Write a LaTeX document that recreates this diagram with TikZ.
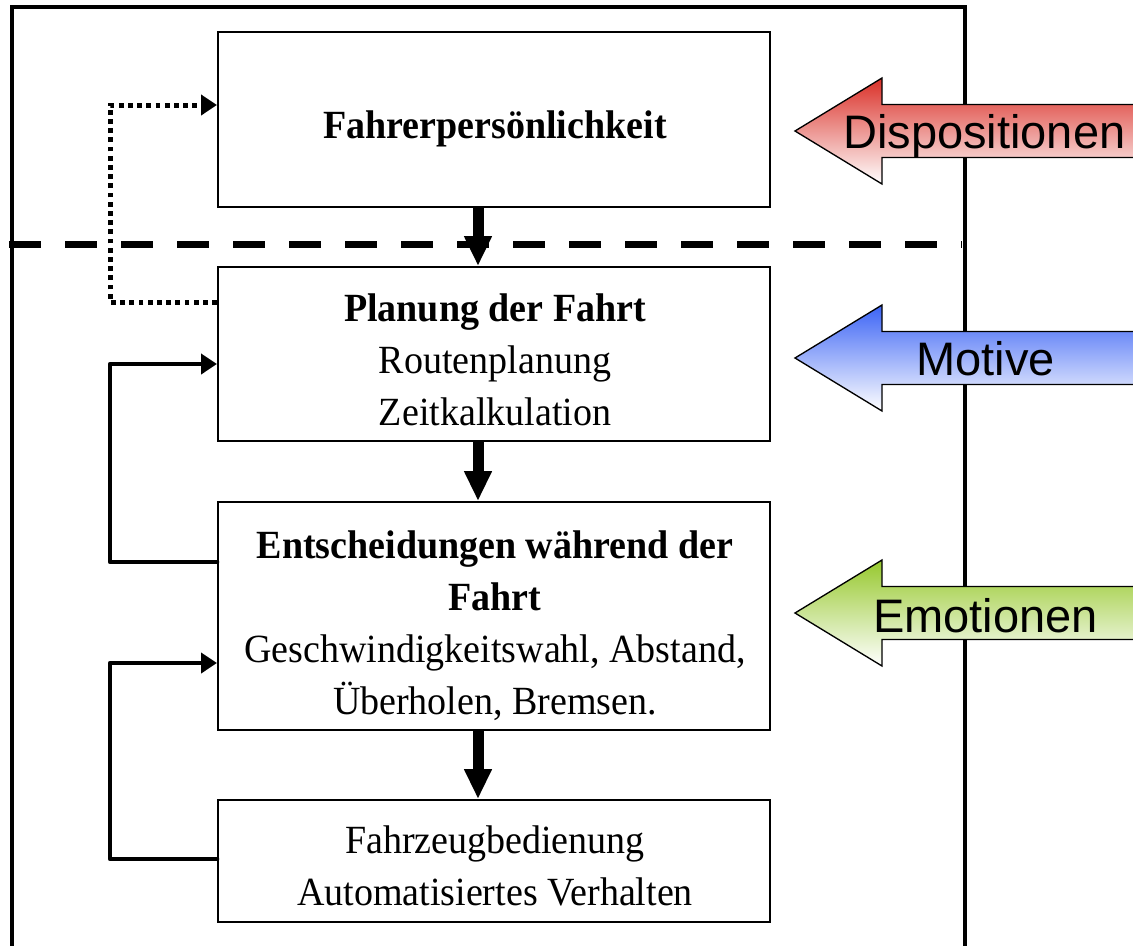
\documentclass[tikz,border=0pt]{standalone}
\usepackage{fontspec}
\setmainfont{Liberation Serif}[FakeStretch=0.95]
\newfontfamily\arialf{Liberation Sans}
\usetikzlibrary{arrows.meta,calc}
\definecolor{dispred}{RGB}{218,48,40}
\definecolor{motblue}{RGB}{60,100,245}
\definecolor{emogreen}{RGB}{150,200,45}
\begin{document}
\begin{tikzpicture}[x=0.75pt,y=-0.75pt,
  box/.style={draw, line width=1.5pt, rectangle, inner sep=0pt, minimum width=414pt},
  boxtext/.style={align=center, inner sep=0pt, anchor=north, font=\fontsize{30}{39}\selectfont},
  bigarrow/.style={line width=8.25pt, -{Triangle[width=19.5pt,length=22.5pt]}},
  loopline/.style={line width=3.5pt, line cap=round, line join=round, -{Triangle[width=15pt,length=12pt]}},
  dotline/.style={line width=3.75pt, dash pattern=on 3.6pt off 3.3pt, -{Triangle[width=15pt,length=12pt]}},
  sepline/.style={line width=5.25pt, dash pattern=on 24pt off 18pt},
  framel/.style={line width=3pt},
  fatarrow/.style={draw=black, line width=1pt, bottom color=white},
  lab/.style={anchor=base west, inner sep=0pt, font=\arialf\fontsize{35.25}{40}\selectfont}
]
\useasboundingbox (0,0) rectangle (1133,946);
\clip (0,0) rectangle (1133,946);
\fill[white] (0,0) rectangle (1133,946);

% frame
\draw[framel] (12,970) -- (12,7) -- (965,7) -- (965,970);

% separator
\draw[sepline] (9,244) -- (962,244);

% boxes
\node[box, minimum height=131.25pt] (b1) at (494,119.5) {};
\node[box, minimum height=130.5pt] (b2) at (494,354) {};
\node[box, minimum height=171pt] (b3) at (494,616) {};
\node[box, minimum height=91.5pt] (b4) at (494,861) {};

% texts
\node[boxtext] (t1) at (495,110) {\textbf{Fahrerpersönlichkeit}};
\node[boxtext] (t2) at (495,293) {\textbf{Planung der Fahrt}\\Routenplanung\\Zeitkalkulation};
\node[boxtext] (t3) at (495,530) {\textbf{Entscheidungen während der}\\\textbf{Fahrt}\\Geschwindigkeitswahl, Abstand,\\Überholen, Bremsen.};
\node[boxtext] (t4) at (495,825) {Fahrzeugbedienung\\Automatisiertes Verhalten};

% vertical arrows
\draw[bigarrow] ([xshift=-12pt]b1.south) -- ([xshift=-12pt]b2.north);
\draw[bigarrow] ([xshift=-12pt]b2.south) -- ([xshift=-12pt]b3.north);
\draw[bigarrow] ([xshift=-12pt]b3.south) -- ([xshift=-12pt]b4.north);

% loop connectors
\coordinate (lx) at (110,0);
\coordinate (p1) at ($(b2.north west)+(0,36)$);
\coordinate (q1) at ($(b1.north west)+(0,74)$);
\coordinate (p2) at ($(b3.north west)+(0,61)$);
\coordinate (q2) at ($(b2.north west)+(0,98)$);
\coordinate (p3) at ($(b4.north west)+(0,60)$);
\coordinate (q3) at ($(b3.north west)+(0,162)$);
\draw[dotline] (p1) -- (p1 -| lx) |- (q1);
\draw[loopline] (p2) -- (p2 -| lx) |- (q2);
\draw[loopline] (p3) -- (p3 -| lx) |- (q3);

% influence arrows
\shade[fatarrow, top color=dispred] (795,131) -- (882,78) -- (882,104.5) -- (1160,104.5) -- (1160,157.5) -- (882,157.5) -- (882,184) -- cycle;
\shade[fatarrow, top color=motblue] (795,358) -- (882,305) -- (882,331.5) -- (1160,331.5) -- (1160,384.5) -- (882,384.5) -- (882,411) -- cycle;
\shade[fatarrow, top color=emogreen] (795,613) -- (882,560) -- (882,586.5) -- (1160,586.5) -- (1160,639.5) -- (882,639.5) -- (882,666) -- cycle;
\node[lab] (l1) at (843,148) {Dispositionen};
\node[lab] (l2) at (916,375) {Motive};
\node[lab] (l3) at (873,632) {Emotionen};
\end{tikzpicture}
\end{document}
